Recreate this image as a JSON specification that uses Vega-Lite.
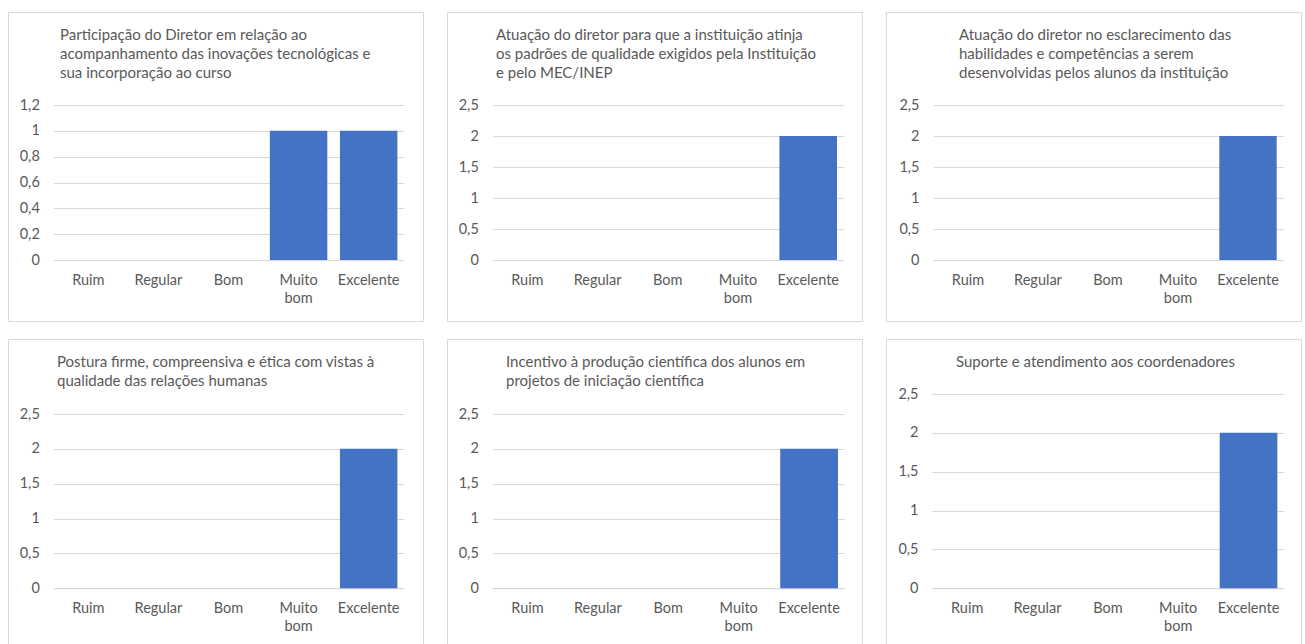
{
  "$schema": "https://vega.github.io/schema/vega-lite/v6.json",
  "background": "white",
  "padding": {"left": 7, "top": 11, "right": 0, "bottom": 0},
  "datasets": {
    "avaliacao": [
      {"painel": 1, "categoria": "Ruim", "valor": 0},
      {"painel": 1, "categoria": "Regular", "valor": 0},
      {"painel": 1, "categoria": "Bom", "valor": 0},
      {"painel": 1, "categoria": "Muito bom", "valor": 1},
      {"painel": 1, "categoria": "Excelente", "valor": 1},
      {"painel": 2, "categoria": "Ruim", "valor": 0},
      {"painel": 2, "categoria": "Regular", "valor": 0},
      {"painel": 2, "categoria": "Bom", "valor": 0},
      {"painel": 2, "categoria": "Muito bom", "valor": 0},
      {"painel": 2, "categoria": "Excelente", "valor": 2},
      {"painel": 3, "categoria": "Ruim", "valor": 0},
      {"painel": 3, "categoria": "Regular", "valor": 0},
      {"painel": 3, "categoria": "Bom", "valor": 0},
      {"painel": 3, "categoria": "Muito bom", "valor": 0},
      {"painel": 3, "categoria": "Excelente", "valor": 2},
      {"painel": 4, "categoria": "Ruim", "valor": 0},
      {"painel": 4, "categoria": "Regular", "valor": 0},
      {"painel": 4, "categoria": "Bom", "valor": 0},
      {"painel": 4, "categoria": "Muito bom", "valor": 0},
      {"painel": 4, "categoria": "Excelente", "valor": 2},
      {"painel": 5, "categoria": "Ruim", "valor": 0},
      {"painel": 5, "categoria": "Regular", "valor": 0},
      {"painel": 5, "categoria": "Bom", "valor": 0},
      {"painel": 5, "categoria": "Muito bom", "valor": 0},
      {"painel": 5, "categoria": "Excelente", "valor": 2},
      {"painel": 6, "categoria": "Ruim", "valor": 0},
      {"painel": 6, "categoria": "Regular", "valor": 0},
      {"painel": 6, "categoria": "Bom", "valor": 0},
      {"painel": 6, "categoria": "Muito bom", "valor": 0},
      {"painel": 6, "categoria": "Excelente", "valor": 2}
    ]
  },
  "data": {"name": "avaliacao"},
  "spacing": 16,
  "vconcat": [
    {
      "spacing": 22,
      "hconcat": [
        {
          "width": 415, "height": 309,
          "title": {"text": ["Participação do Diretor em relação ao", "acompanhamento das inovações tecnológicas e", "sua incorporação ao curso"], "dx": 52, "offset": -69},
          "transform": [{"filter": "datum.painel == 1"}],
          "mark": {"type": "bar", "color": "#4472C4"},
          "encoding": {
            "x": {"field": "categoria", "type": "nominal", "sort": ["Ruim", "Regular", "Bom", "Muito bom", "Excelente"],
                  "scale": {"domain": ["Ruim", "Regular", "Bom", "Muito bom", "Excelente"], "range": [45.3, 395.7], "paddingInner": 0.18, "paddingOuter": 0.09},
                  "axis": {"offset": -61}},
            "y": {"field": "valor", "type": "quantitative",
                  "scale": {"domain": [0, 1.2], "range": [248, 93], "nice": false},
                  "axis": {"offset": -45.3, "values": [0, 0.2, 0.4, 0.6, 0.8, 1, 1.2]}}
          }
        },
        {
          "width": 415, "height": 309,
          "title": {"text": ["Atuação do diretor para que a instituição atinja", "os padrões de qualidade exigidos pela Instituição", "e pelo MEC/INEP"], "dx": 49, "offset": -69},
          "transform": [{"filter": "datum.painel == 2"}],
          "mark": {"type": "bar", "color": "#4472C4"},
          "encoding": {
            "x": {"field": "categoria", "type": "nominal", "sort": ["Ruim", "Regular", "Bom", "Muito bom", "Excelente"],
                  "scale": {"domain": ["Ruim", "Regular", "Bom", "Muito bom", "Excelente"], "range": [45.3, 396.3], "paddingInner": 0.18, "paddingOuter": 0.09},
                  "axis": {"offset": -61}},
            "y": {"field": "valor", "type": "quantitative",
                  "scale": {"domain": [0, 2.5], "range": [248, 93], "nice": false},
                  "axis": {"offset": -45.3, "values": [0, 0.5, 1, 1.5, 2, 2.5]}}
          }
        },
        {
          "width": 415, "height": 309,
          "title": {"text": ["Atuação do diretor no esclarecimento das", "habilidades e competências a serem", "desenvolvidas pelos alunos da instituição"], "dx": 73, "offset": -69},
          "transform": [{"filter": "datum.painel == 3"}],
          "mark": {"type": "bar", "color": "#4472C4"},
          "encoding": {
            "x": {"field": "categoria", "type": "nominal", "sort": ["Ruim", "Regular", "Bom", "Muito bom", "Excelente"],
                  "scale": {"domain": ["Ruim", "Regular", "Bom", "Muito bom", "Excelente"], "range": [47, 397], "paddingInner": 0.18, "paddingOuter": 0.09},
                  "axis": {"offset": -61}},
            "y": {"field": "valor", "type": "quantitative",
                  "scale": {"domain": [0, 2.5], "range": [248, 93], "nice": false},
                  "axis": {"offset": -47, "values": [0, 0.5, 1, 1.5, 2, 2.5]}}
          }
        }
      ]
    },
    {
      "spacing": 22,
      "hconcat": [
        {
          "width": 415, "height": 309,
          "title": {"text": ["Postura firme, compreensiva e ética com vistas à", "qualidade das relações humanas"], "dx": 49, "offset": -50},
          "transform": [{"filter": "datum.painel == 4"}],
          "mark": {"type": "bar", "color": "#4472C4"},
          "encoding": {
            "x": {"field": "categoria", "type": "nominal", "sort": ["Ruim", "Regular", "Bom", "Muito bom", "Excelente"],
                  "scale": {"domain": ["Ruim", "Regular", "Bom", "Muito bom", "Excelente"], "range": [45.3, 395.7], "paddingInner": 0.18, "paddingOuter": 0.09},
                  "axis": {"offset": -59.7}},
            "y": {"field": "valor", "type": "quantitative",
                  "scale": {"domain": [0, 2.5], "range": [249.3, 75], "nice": false},
                  "axis": {"offset": -45.3, "values": [0, 0.5, 1, 1.5, 2, 2.5]}}
          }
        },
        {
          "width": 415, "height": 309,
          "title": {"text": ["Incentivo à produção científica dos alunos em", "projetos de iniciação científica"], "dx": 59, "offset": -50},
          "transform": [{"filter": "datum.painel == 5"}],
          "mark": {"type": "bar", "color": "#4472C4"},
          "encoding": {
            "x": {"field": "categoria", "type": "nominal", "sort": ["Ruim", "Regular", "Bom", "Muito bom", "Excelente"],
                  "scale": {"domain": ["Ruim", "Regular", "Bom", "Muito bom", "Excelente"], "range": [45.3, 397.3], "paddingInner": 0.18, "paddingOuter": 0.09},
                  "axis": {"offset": -59.7}},
            "y": {"field": "valor", "type": "quantitative",
                  "scale": {"domain": [0, 2.5], "range": [249.3, 75], "nice": false},
                  "axis": {"offset": -45.3, "values": [0, 0.5, 1, 1.5, 2, 2.5]}}
          }
        },
        {
          "width": 415, "height": 309,
          "title": {"text": "Suporte e atendimento aos coordenadores", "dx": 70, "offset": -31},
          "transform": [{"filter": "datum.painel == 6"}],
          "mark": {"type": "bar", "color": "#4472C4"},
          "encoding": {
            "x": {"field": "categoria", "type": "nominal", "sort": ["Ruim", "Regular", "Bom", "Muito bom", "Excelente"],
                  "scale": {"domain": ["Ruim", "Regular", "Bom", "Muito bom", "Excelente"], "range": [46, 397.7], "paddingInner": 0.18, "paddingOuter": 0.09},
                  "axis": {"offset": -59.7}},
            "y": {"field": "valor", "type": "quantitative",
                  "scale": {"domain": [0, 2.5], "range": [249.3, 55], "nice": false},
                  "axis": {"offset": -46, "values": [0, 0.5, 1, 1.5, 2, 2.5]}}
          }
        }
      ]
    }
  ],
  "config": {
    "font": "Lato",
    "view": {"stroke": "#d9d9d9", "strokeWidth": 1},
    "title": {"anchor": "start", "frame": "group", "font": "Lato", "fontSize": 15, "fontWeight": "normal", "color": "#595959", "lineHeight": 19},
    "axis": {"title": null, "labelFont": "Lato", "labelFontSize": 14.5, "labelColor": "#595959", "ticks": false, "tickSize": 0, "domain": false, "gridColor": "#d9d9d9", "gridWidth": 1},
    "axisX": {"grid": false, "domain": true, "domainColor": "#d9d9d9", "domainWidth": 1, "labelAngle": 0, "labelPadding": 13, "labelLineHeight": 18, "labelBaseline": "top",
              "labelExpr": "datum.label == 'Muito bom' ? ['Muito', 'bom'] : datum.label"},
    "axisY": {"grid": true, "labelPadding": 14, "format": "~g", "labelExpr": "replace(datum.label, '.', ',')"}
  }
}
